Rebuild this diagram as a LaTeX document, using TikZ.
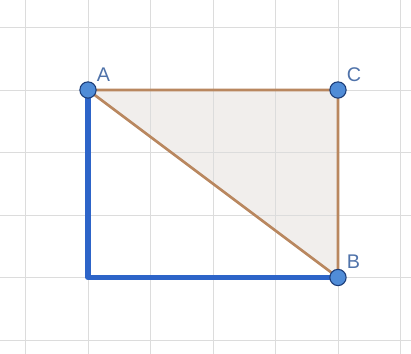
\documentclass[tikz,border=0pt]{standalone}
\usepackage{fontspec}
\setsansfont{Liberation Sans}
\usetikzlibrary{positioning,backgrounds}
\definecolor{gridgray}{RGB}{220,220,220}
\definecolor{triline}{RGB}{185,135,95}
\definecolor{trifill}{RGB}{241,238,236}
\definecolor{penblue}{RGB}{45,100,200}
\definecolor{ptblue}{RGB}{80,140,215}
\definecolor{lblblue}{RGB}{80,115,170}
\tikzset{
  pt/.style={circle, fill=ptblue, draw=penblue!60!black, line width=0.5pt, inner sep=0pt, minimum size=2.6mm},
  lbl/.style={font=\sffamily\small, text=lblblue, inner sep=1pt},
  tri/.style={line width=1.2pt, triline},
  pen/.style={line width=2.3pt, penblue, line cap=round, line join=round},
}
\begin{document}
\begin{tikzpicture}
        \useasboundingbox (-1.408,-4.224) rectangle (5.168,1.44);
        \node[pt, label={[lbl]above right:A}](A) at (0,0){};
        \node[pt, label={[lbl]above right:C}](C) at (4,0){};
        \node[pt, label={[lbl]above right:B}](B) at (4,-3){};
        \coordinate (D) at (0,-3);
        \begin{scope}[on background layer]
        \fill[white] (-1.408,-4.224) rectangle (5.168,1.44);
        \fill[trifill] (A.center) -- (C.center) -- (B.center) -- cycle;
        \draw[gridgray, line width=0.4pt] (-1.408,-4.224) grid (5.168,1.44);
        \draw[tri](A.center)--(C.center)--(B.center)--(A.center);
        \draw[pen](A.center)--(D)--(B.center);
        \end{scope}
    \end{tikzpicture}
\end{document}
